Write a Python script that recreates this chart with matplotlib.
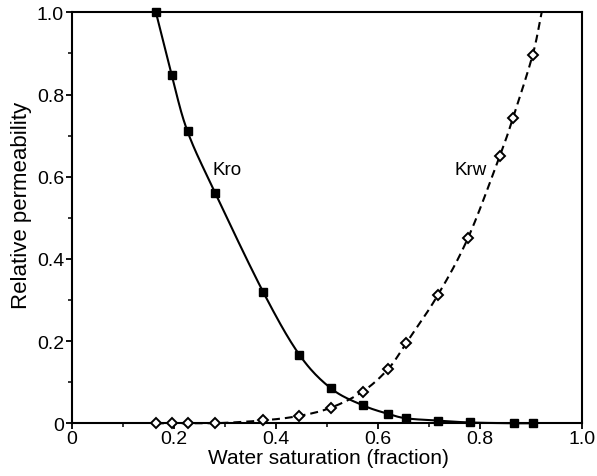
import numpy as np
import matplotlib
matplotlib.use("Agg")
import matplotlib.pyplot as plt
from matplotlib.ticker import MultipleLocator

# Data
sw_kro = [0.165, 0.196, 0.227, 0.281, 0.375, 0.446, 0.508, 0.570, 0.620, 0.656, 0.717, 0.780, 0.867, 0.903]
kro = [1.0, 0.847, 0.71, 0.561, 0.32, 0.167, 0.085, 0.044, 0.023, 0.012, 0.0066, 0.002, 0.0, 0.0]

sw_krw = [0.165, 0.196, 0.227, 0.281, 0.375, 0.446, 0.508, 0.570, 0.620, 0.656, 0.717, 0.777, 0.839, 0.865, 0.903]
krw = [0.0, 0.0, 0.0, 0.0, 0.007, 0.018, 0.038, 0.077, 0.132, 0.196, 0.311, 0.452, 0.651, 0.744, 0.895]
# end of the dashed Krw curve at the top of the plot
krw_curve_end = (0.921, 1.0)

ticks = [0, 0.2, 0.4, 0.6, 0.8, 1.0]
tick_labels = ["0", "0.2", "0.4", "0.6", "0.8", "1.0"]


def catmull_rom(x, y, n=20):
    x = np.asarray(x, float)
    y = np.asarray(y, float)
    P = np.column_stack([x, y])
    P = np.vstack([2 * P[0] - P[1], P, 2 * P[-1] - P[-2]])
    out = []
    t = np.linspace(0, 1, n, endpoint=False)[:, None]
    for i in range(1, len(P) - 2):
        p0, p1, p2, p3 = P[i - 1], P[i], P[i + 1], P[i + 2]
        seg = 0.5 * ((2 * p1) + (-p0 + p2) * t + (2 * p0 - 5 * p1 + 4 * p2 - p3) * t ** 2
                     + (-p0 + 3 * p1 - 3 * p2 + p3) * t ** 3)
        out.append(seg)
    out.append(P[-2][None, :])
    out = np.vstack(out)
    return out[:, 0], out[:, 1]


plt.rcParams['font.family'] = ['Liberation Sans', 'DejaVu Sans']

fig = plt.figure(figsize=(5.97, 4.77), dpi=100)
ax = fig.add_axes([0.1201, 0.1105, 0.8548, 0.8616])

cx, cy = catmull_rom(sw_kro, kro)
cy = np.clip(cy, 0, None)
ax.plot(cx, cy, color='black', lw=1.5, solid_capstyle='butt', clip_on=False, zorder=2)
ax.plot(sw_kro, kro, ls='none', marker='s', ms=5.3, color='black', clip_on=False, zorder=4)

wx, wy = catmull_rom(list(sw_krw) + [krw_curve_end[0]], list(krw) + [krw_curve_end[1]])
wy = np.clip(wy, 0, None)
ax.plot(wx, wy, color='black', lw=1.5, dashes=(3.8, 2.4), clip_on=False, zorder=3)
ax.plot(sw_krw, krw, ls='none', marker='D', ms=4.8, mfc='white', mec='black', mew=1.4,
        clip_on=False, zorder=5)

ax.text(0.3045, 0.618, "Kro", fontsize=13.5, ha='center', va='center')
ax.text(0.782, 0.618, "Krw", fontsize=13.5, ha='center', va='center')

ax.set_xlim(0, 1.0)
ax.set_ylim(0, 1.0)
ax.set_xticks(ticks)
ax.set_xticklabels(tick_labels)
ax.set_yticks(ticks)
ax.set_yticklabels(tick_labels)
ax.xaxis.set_minor_locator(MultipleLocator(0.1))
ax.yaxis.set_minor_locator(MultipleLocator(0.1))
ax.tick_params(which='major', direction='out', length=4, width=1.3, labelsize=14)
ax.tick_params(axis='x', which='major', pad=1)
ax.tick_params(axis='y', which='major', pad=1.5)
ax.tick_params(which='minor', direction='out', length=3, width=1.1)
for s in ax.spines.values():
    s.set_linewidth(1.5)

ax.set_xlabel("Water saturation (fraction)", fontsize=15)
ax.set_ylabel("Relative permeability", fontsize=16)
ax.xaxis.set_label_coords(0.5035, -0.061)
ax.yaxis.set_label_coords(-0.077, 0.532)

fig.savefig("out.png", dpi=100)
